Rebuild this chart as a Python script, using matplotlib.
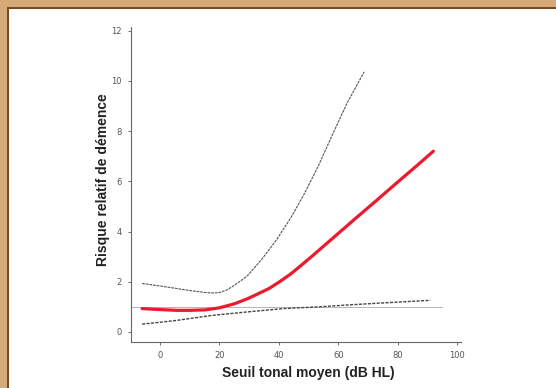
import matplotlib
matplotlib.use("Agg")
import matplotlib.pyplot as plt
import matplotlib.patches as patches

# data
x_red = [-6, 0, 5.7, 10, 15.3, 20, 25, 29.6, 33, 36.7, 40, 43.9, 47, 51, 58.2, 65.3, 72.5, 79.6, 86.8, 92]
y_red = [0.93, 0.89, 0.86, 0.86, 0.88, 0.96, 1.12, 1.33, 1.52, 1.73, 1.98, 2.30, 2.60, 3.00, 3.74, 4.47, 5.20, 5.93, 6.66, 7.2]

x_up = [-6, 0, 5.7, 10, 15.3, 18, 20, 22.5, 24.8, 27, 29.6, 34.3, 39.1, 43.9, 48.6, 53.4, 58.2, 62.9, 68.7]
y_up = [1.93, 1.83, 1.73, 1.65, 1.57, 1.55, 1.57, 1.67, 1.84, 2.02, 2.26, 2.90, 3.65, 4.52, 5.51, 6.64, 7.90, 9.10, 10.36]

x_low = [-6, 5.7, 17.6, 29.6, 41.5, 53.4, 65.3, 77.2, 91]
y_low = [0.31, 0.46, 0.66, 0.80, 0.93, 1.00, 1.09, 1.17, 1.26]

x_ref = [-10, 95]
y_ref = [1, 1]

xticks = [0, 20, 40, 60, 80, 100]
yticks = [0, 2, 4, 6, 8, 10, 12]

fig = plt.figure(figsize=(5.56, 3.88), dpi=100)
ax = fig.add_axes([0.2356, 0.1186, 0.593, 0.812])

# tan frame on top and left
tan = '#d4aa78'
brown = '#7a4a1a'
fig.patches.append(patches.Rectangle((0, 1 - 7/388), 1, 7/388, transform=fig.transFigure, facecolor=tan, edgecolor='none'))
fig.patches.append(patches.Rectangle((0, 0), 7/556, 1, transform=fig.transFigure, facecolor=tan, edgecolor='none'))
fig.patches.append(patches.Rectangle((7/556, 1 - 8.5/388), 1, 1.5/388, transform=fig.transFigure, facecolor=brown, edgecolor='none'))
fig.patches.append(patches.Rectangle((7/556, 0), 1.5/556, 1 - 7/388, transform=fig.transFigure, facecolor=brown, edgecolor='none'))

ax.plot(x_ref, y_ref, color='#aaaaaa', lw=0.6)
ax.plot(x_low, y_low, color='#444444', lw=1.0, ls=(0, (2.2, 1.0)))
ax.plot(x_up, y_up, color='#555555', lw=0.8, ls=(0, (2.5, 0.8)))
ax.plot(x_red, y_red, color='#ec1a2e', lw=2.3, solid_capstyle='round', solid_joinstyle='round')

ax.set_xlim(-9.75, 101.2)
ax.set_ylim(-0.4, 12.15)
ax.set_xticks(xticks)
ax.set_yticks(yticks)
ax.tick_params(labelsize=6, colors='#555555', length=2.5, width=0.6, pad=4)
for s in ['top', 'right']:
    ax.spines[s].set_visible(False)
for s in ['left', 'bottom']:
    ax.spines[s].set_color('#666666')
    ax.spines[s].set_linewidth(0.8)

fig.text(308/556, 1 - 373/388, 'Seuil tonal moyen (dB HL)', family='Liberation Sans', fontsize=10,
         fontweight='bold', color='#222222', ha='center', va='center')
fig.text(103/556, 1 - 180/388, 'Risque relatif de démence', family='Liberation Sans', fontsize=10,
         fontweight='bold', color='#222222', ha='center', va='center', rotation=90)

fig.savefig('out.png', dpi=100)
